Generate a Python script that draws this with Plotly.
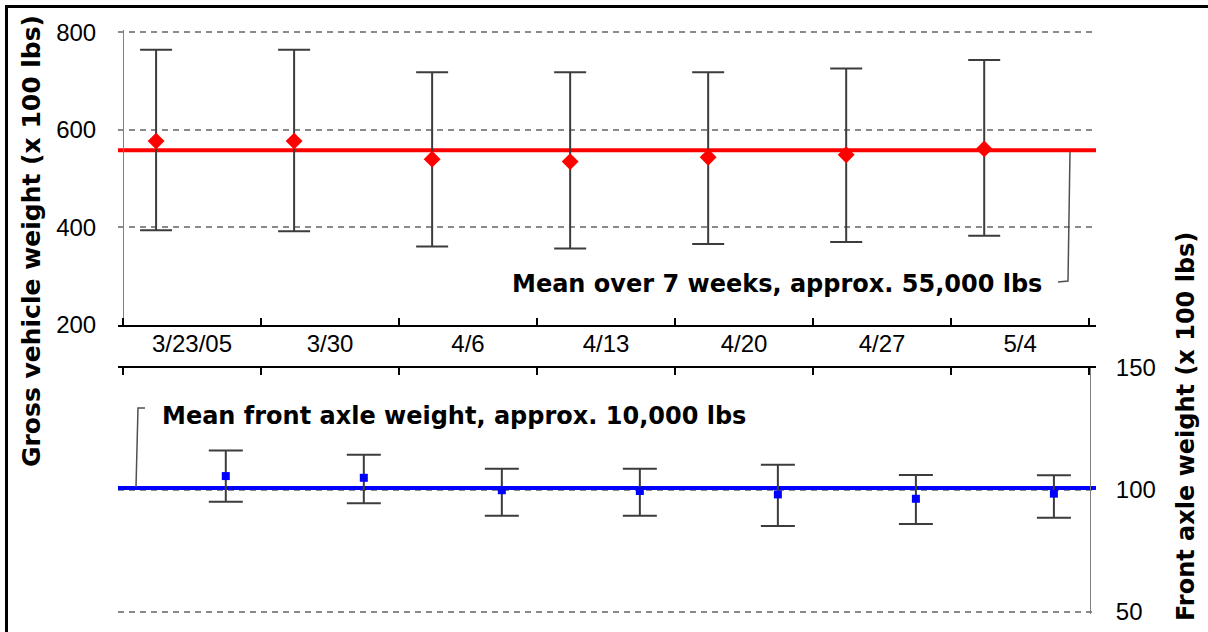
import plotly.graph_objects as go

# Weekly sampling dates
weeks = ["3/23/05", "3/30", "4/6", "4/13", "4/20", "4/27", "5/4"]

# Gross vehicle weight (x 100 lbs): weekly mean and spread
gross_mean = [577, 577, 540, 535, 544, 549, 561]
gross_high = [764, 764, 718, 718, 718, 726, 743]
gross_low = [394, 392, 361, 357, 366, 370, 383]
gross_overall = 558

# Front axle weight (x 100 lbs): weekly mean and spread
front_mean = [105.7, 105.0, 99.9, 99.6, 98.2, 96.4, 98.5]
front_high = [116.2, 114.4, 108.7, 108.7, 110.3, 106.1, 106.0]
front_low = [95.2, 94.6, 89.4, 89.4, 85.2, 86.1, 88.6]
front_overall = 100.8

gross_ticks = [200, 400, 600, 800]
front_ticks = [50, 100, 150]

W, H = 1208, 632
FONT = "Liberation Sans, Arial, sans-serif"
BOLD = "DejaVu Sans, Verdana, sans-serif"
ERR = "#3c3c3c"
GRID = "#8a8a8a"


def px(x):
    return x / W


def py(y):
    return 1 - y / H


n = len(weeks)
x_gross = [i + 0.24 for i in range(n)]
x_front = [i + 0.745 for i in range(n)]
# x range runs a little past the first/last category so the mean lines overhang
x_range = [-0.036, n + 0.05]

# vertical scales (pixels per unit) and padded ranges so edge gridlines show
g_scale = 292.7 / 600
g_range = [200, 805]
f_scale = 244 / 100
f_range = [49, 150]

fig = go.Figure()

# Overall mean lines
fig.add_trace(go.Scatter(
    x=x_range, y=[gross_overall, gross_overall], mode="lines",
    xaxis="x", yaxis="y", line=dict(color="#ff0000", width=4),
    showlegend=False, hoverinfo="skip",
))
fig.add_trace(go.Scatter(
    x=x_range, y=[front_overall, front_overall], mode="lines",
    xaxis="x2", yaxis="y2", line=dict(color="#0000ff", width=4),
    showlegend=False, hoverinfo="skip",
))

# Gross weight points with min/max bars
fig.add_trace(go.Scatter(
    x=x_gross, y=gross_mean, mode="markers", xaxis="x4", yaxis="y",
    marker=dict(symbol="diamond", size=13, color="#ff0000"),
    error_y=dict(type="data", symmetric=False,
                 array=[h - m for h, m in zip(gross_high, gross_mean)],
                 arrayminus=[m - l for m, l in zip(gross_mean, gross_low)],
                 color=ERR, thickness=2, width=16),
    cliponaxis=False, showlegend=False,
))

# Front axle points with min/max bars
fig.add_trace(go.Scatter(
    x=x_front, y=front_mean, mode="markers", xaxis="x2", yaxis="y2",
    marker=dict(symbol="square", size=8, color="#0000ff"),
    error_y=dict(type="data", symmetric=False,
                 array=[h - m for h, m in zip(front_high, front_mean)],
                 arrayminus=[m - l for m, l in zip(front_mean, front_low)],
                 color=ERR, thickness=2, width=17),
    cliponaxis=False, showlegend=False,
))

dom_x = [px(118), px(1096)]
g_bottom = 325
g_top = g_bottom - (g_range[1] - g_range[0]) * g_scale
f_top = 368
f_bottom = f_top + (f_range[1] - f_range[0]) * f_scale
tick_font = dict(family=FONT, size=24, color="#000000")

fig.update_layout(
    width=W, height=H,
    margin=dict(l=0, r=0, t=0, b=0, autoexpand=False),
    paper_bgcolor="#ffffff", plot_bgcolor="rgba(0,0,0,0)",
    xaxis=dict(domain=dom_x, range=x_range, anchor="y",
               tickvals=list(range(n + 1)), ticktext=[""] * (n + 1),
               ticks="inside", ticklen=7, tickwidth=2, tickcolor="#000000",
               showline=True, linecolor="#000000", linewidth=2,
               showgrid=False, zeroline=False, side="bottom",
               automargin=False),
    xaxis4=dict(overlaying="x", range=x_range, anchor="y", side="bottom",
                tickvals=[i + 0.5 for i in range(n)], ticktext=weeks,
                ticks="", showline=False, showgrid=False, zeroline=False,
                tickfont=tick_font, ticklabelstandoff=2, automargin=False),
    xaxis2=dict(domain=dom_x, range=x_range, anchor="y2", side="top",
                tickvals=list(range(n + 1)), ticktext=[""] * (n + 1),
                ticks="inside", ticklen=7, tickwidth=2, tickcolor="#000000",
                showline=True, linecolor="#000000", linewidth=2,
                showgrid=False, zeroline=False, automargin=False),
    yaxis=dict(domain=[py(g_bottom), py(g_top)], range=g_range,
               anchor="free", position=px(123),
               tickvals=gross_ticks, ticks="", tickfont=tick_font,
               ticklabelstandoff=22,
               showline=True, linecolor="#808080", linewidth=1,
               showgrid=True, gridcolor=GRID, gridwidth=1.5,
               griddash="6px,5px", zeroline=False, automargin=False),
    yaxis2=dict(domain=[py(f_bottom), py(f_top)], range=f_range,
                anchor="free", position=px(1090), side="right",
                tickvals=front_ticks, ticks="",
                tickfont=tick_font, ticklabelstandoff=20,
                showline=True, linecolor="#808080", linewidth=1,
                showgrid=True, gridcolor=GRID, gridwidth=1.5,
                griddash="6px,5px", zeroline=False, automargin=False),
    font=dict(family=FONT, color="#000000"),
)

title_font = dict(family=BOLD, size=24, color="#000000")
fig.add_annotation(text="<b>Gross vehicle weight (x 100 lbs)</b>",
                   xref="paper", yref="paper", x=px(31), y=py(241),
                   textangle=-90, showarrow=False,
                   font=dict(family=BOLD, size=25, color="#000000"),
                   xanchor="center", yanchor="middle")
fig.add_annotation(text="<b>Front axle weight (x 100 lbs)</b>",
                   xref="paper", yref="paper", x=px(1186), y=py(427),
                   textangle=-90, showarrow=False, font=title_font,
                   xanchor="center", yanchor="middle")

# Callouts for the mean lines
fig.add_annotation(text="<b>Mean over 7 weeks, approx. 55,000 lbs</b>",
                   xref="paper", yref="paper", x=px(1044), y=py(284),
                   xanchor="right", yanchor="middle", showarrow=False,
                   font=title_font)
fig.add_annotation(text="<b>Mean front axle weight, approx. 10,000 lbs</b>",
                   xref="paper", yref="paper", x=px(160), y=py(416),
                   xanchor="left", yanchor="middle", showarrow=False,
                   font=title_font)

leader = dict(color="#505050", width=1.5)
fig.add_shape(type="path", xref="paper", yref="paper",
              path=f"M {px(1070)} {py(152)} L {px(1068)} {py(281)} L {px(1058)} {py(282)}",
              line=leader)
fig.add_shape(type="path", xref="paper", yref="paper",
              path=f"M {px(136)} {py(487)} L {px(138)} {py(408)} L {px(145)} {py(408)}",
              line=leader)

# Outer frame (top and left edges)
fig.add_shape(type="line", xref="paper", yref="paper",
              x0=px(5), x1=1.0, y0=py(6.5), y1=py(6.5),
              line=dict(color="#000000", width=3))
fig.add_shape(type="line", xref="paper", yref="paper",
              x0=px(6.5), x1=px(6.5), y0=0.0, y1=py(5),
              line=dict(color="#000000", width=3))

fig.write_html("out.html")
